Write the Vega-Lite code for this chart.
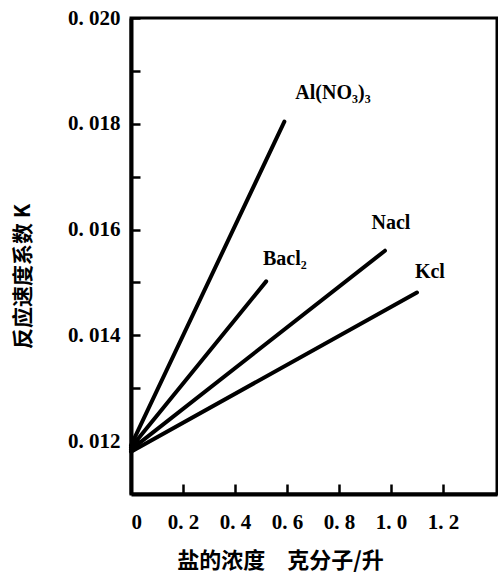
{
  "$schema": "https://vega.github.io/schema/vega-lite/v6.json",
  "width": 366,
  "height": 476,
  "autosize": "none",
  "padding": {"left": 131, "top": 18, "right": 1, "bottom": 84},
  "background": "white",
  "config": {
    "view": {"stroke": "black", "strokeWidth": 3},
    "axis": {
      "grid": false,
      "domainColor": "black",
      "domainWidth": 4,
      "tickColor": "black",
      "tickWidth": 2.5,
      "labelColor": "black",
      "titleColor": "black",
      "labelFont": "Liberation Serif",
      "labelFontSize": 21,
      "labelFontWeight": "bold",
      "titleFont": "Noto Sans CJK SC",
      "titleFontWeight": "bold"
    }
  },
  "datasets": {
    "lines": [
      {"salt": "Al(NO₃)₃", "conc": 0, "k": 0.01192},
      {"salt": "Al(NO₃)₃", "conc": 0.59, "k": 0.01804},
      {"salt": "Bacl₂", "conc": 0, "k": 0.01188},
      {"salt": "Bacl₂", "conc": 0.52, "k": 0.01502},
      {"salt": "Nacl", "conc": 0, "k": 0.01184},
      {"salt": "Nacl", "conc": 0.977, "k": 0.0156},
      {"salt": "Kcl", "conc": 0, "k": 0.0118},
      {"salt": "Kcl", "conc": 1.1, "k": 0.01481}
    ],
    "labels": [
      {"salt": "Al(NO₃)₃", "conc": 0.777, "k": 0.01859},
      {"salt": "Bacl₂", "conc": 0.592, "k": 0.01545},
      {"salt": "Nacl", "conc": 1.0, "k": 0.01613},
      {"salt": "Kcl", "conc": 1.15, "k": 0.01519}
    ]
  },
  "layer": [
    {
      "data": {"name": "lines"},
      "mark": {"type": "line", "color": "black", "strokeWidth": 4, "strokeCap": "round"},
      "encoding": {
        "x": {
          "field": "conc",
          "type": "quantitative",
          "scale": {"domain": [0, 1.408], "nice": false, "zero": false},
          "axis": {
            "values": [0, 0.2, 0.4, 0.6, 0.8, 1.0, 1.2],
            "labelExpr": "datum.value == 0 ? '0' : replace(format(datum.value, '.1f'), '.', '. ')",
            "tickSize": -10,
            "labelPadding": 27,
            "title": "盐的浓度　克分子/升",
            "titleFontSize": 22,
            "titleX": 149,
            "titleY": 66,
            "titleAlign": "center",
            "titleBaseline": "middle"
          }
        },
        "y": {
          "field": "k",
          "type": "quantitative",
          "scale": {"domain": [0.011, 0.02], "nice": false, "zero": false},
          "axis": {
            "values": [0.012, 0.013, 0.014, 0.015, 0.016, 0.017, 0.018, 0.019, 0.02],
            "labelExpr": "round(datum.value * 1000) % 2 == 0 ? replace(format(datum.value, '.3f'), '.', '. ') : ''",
            "tickSize": -9,
            "labelPadding": 20,
            "title": "反应速度系数 K",
            "titleFontSize": 21,
            "titleAngle": 270,
            "titleX": -108,
            "titleY": 258,
            "titleAlign": "center",
            "titleBaseline": "middle"
          }
        },
        "detail": {"field": "salt"}
      }
    },
    {
      "data": {"name": "labels"},
      "mark": {"type": "text", "font": "Liberation Serif", "fontSize": 20, "fontWeight": "bold", "color": "black"},
      "encoding": {
        "x": {"field": "conc", "type": "quantitative"},
        "y": {"field": "k", "type": "quantitative"},
        "text": {"field": "salt"}
      }
    }
  ]
}
